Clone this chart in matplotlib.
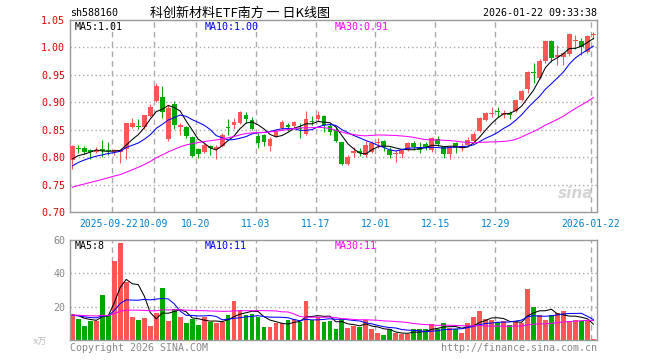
import numpy as np
import pandas as pd
import matplotlib
matplotlib.use("Agg")
import matplotlib.pyplot as plt

plt.rcParams['font.family'] = ['DejaVu Sans Mono', 'Noto Sans CJK SC']

# daily candles, 2025-09-11 .. 2026-01-22 (88 trading days)
opens = [0.795, 0.817, 0.817, 0.813, 0.810, 0.814, 0.813, 0.810, 0.810, 0.815,
         0.855, 0.857, 0.855, 0.875, 0.903, 0.909, 0.833, 0.897, 0.855, 0.855,
         0.837, 0.815, 0.810, 0.821, 0.814, 0.820, 0.855, 0.858, 0.862, 0.877,
         0.868, 0.838, 0.841, 0.821, 0.838, 0.854, 0.858, 0.857, 0.853, 0.843,
         0.866, 0.869, 0.875, 0.857, 0.849, 0.827, 0.787, 0.808, 0.812, 0.804,
         0.810, 0.826, 0.830, 0.813, 0.806, 0.805, 0.813, 0.826, 0.819, 0.824,
         0.813, 0.833, 0.819, 0.806, 0.825, 0.816, 0.822, 0.830, 0.848, 0.868,
         0.878, 0.884, 0.877, 0.880, 0.885, 0.905, 0.925, 0.955, 0.944, 0.975,
         1.012, 0.983, 0.983, 0.988, 1.011, 1.012, 0.992, 1.022]
highs = [0.822, 0.822, 0.820, 0.815, 0.818, 0.832, 0.827, 0.815, 0.815, 0.862,
         0.872, 0.870, 0.877, 0.897, 0.936, 0.930, 0.895, 0.903, 0.863, 0.857,
         0.839, 0.817, 0.825, 0.823, 0.822, 0.844, 0.870, 0.872, 0.885, 0.883,
         0.873, 0.844, 0.843, 0.836, 0.852, 0.868, 0.862, 0.866, 0.863, 0.884,
         0.875, 0.884, 0.877, 0.860, 0.855, 0.828, 0.803, 0.819, 0.816, 0.830,
         0.830, 0.834, 0.832, 0.819, 0.813, 0.815, 0.828, 0.830, 0.828, 0.828,
         0.836, 0.838, 0.820, 0.820, 0.828, 0.826, 0.836, 0.846, 0.874, 0.882,
         0.891, 0.891, 0.886, 0.884, 0.906, 0.923, 0.957, 0.971, 0.978, 1.014,
         1.013, 1.004, 0.992, 1.026, 1.023, 1.017, 1.022, 1.029]
lows = [0.778, 0.808, 0.806, 0.797, 0.807, 0.800, 0.803, 0.803, 0.789, 0.797,
        0.853, 0.851, 0.852, 0.874, 0.900, 0.872, 0.830, 0.852, 0.841, 0.835,
        0.800, 0.799, 0.807, 0.804, 0.796, 0.818, 0.841, 0.852, 0.860, 0.863,
        0.849, 0.817, 0.820, 0.812, 0.836, 0.850, 0.848, 0.852, 0.835, 0.840,
        0.858, 0.866, 0.846, 0.840, 0.828, 0.785, 0.785, 0.801, 0.802, 0.801,
        0.808, 0.816, 0.812, 0.798, 0.792, 0.798, 0.812, 0.813, 0.808, 0.813,
        0.809, 0.820, 0.798, 0.796, 0.808, 0.812, 0.820, 0.829, 0.846, 0.866,
        0.874, 0.874, 0.871, 0.869, 0.882, 0.903, 0.917, 0.936, 0.942, 0.972,
        0.974, 0.968, 0.968, 0.985, 0.998, 0.986, 0.990, 1.016]
closes = [0.821, 0.814, 0.809, 0.809, 0.813, 0.811, 0.811, 0.813, 0.813, 0.862,
          0.862, 0.855, 0.876, 0.892, 0.930, 0.883, 0.890, 0.858, 0.859, 0.839,
          0.802, 0.806, 0.822, 0.816, 0.819, 0.841, 0.853, 0.864, 0.883, 0.869,
          0.852, 0.826, 0.827, 0.833, 0.847, 0.864, 0.855, 0.864, 0.851, 0.870,
          0.864, 0.876, 0.858, 0.846, 0.830, 0.787, 0.801, 0.811, 0.807, 0.823,
          0.825, 0.828, 0.818, 0.804, 0.808, 0.813, 0.825, 0.818, 0.813, 0.818,
          0.834, 0.824, 0.806, 0.818, 0.816, 0.821, 0.831, 0.843, 0.872, 0.880,
          0.880, 0.882, 0.880, 0.877, 0.904, 0.921, 0.955, 0.953, 0.976, 1.012,
          0.980, 0.986, 0.989, 1.024, 1.013, 1.000, 1.020, 1.024]
# volume, 万手
volumes = [15.4, 12.4, 8.4, 11.4, 11.4, 26.8, 14.8, 47.4, 58.0, 34.8,
           13.8, 12.0, 13.4, 8.4, 16.0, 31.0, 11.4, 18.4, 13.8, 10.0,
           12.8, 9.0, 14.0, 10.8, 10.4, 10.8, 14.8, 23.4, 18.0, 14.8,
           15.4, 14.0, 7.8, 7.8, 10.0, 10.4, 11.8, 12.8, 10.8, 23.4,
           12.0, 14.0, 10.8, 11.4, 6.4, 12.8, 7.0, 8.4, 8.0, 12.0,
           6.4, 4.4, 2.8, 6.4, 4.0, 3.4, 3.4, 6.4, 6.4, 6.4,
           9.4, 6.4, 10.4, 7.4, 6.8, 4.4, 10.4, 13.6, 17.4, 12.8,
           12.0, 11.0, 11.2, 8.8, 11.6, 10.4, 30.4, 20.0, 15.2, 11.8,
           14.8, 16.4, 17.2, 11.4, 11.8, 11.4, 12.0, 0.8]

# earlier sessions, only used to seed the moving averages
prior_closes = [0.720, 0.728, 0.724, 0.731, 0.726, 0.719, 0.722, 0.730, 0.735, 0.727,
                0.721, 0.725, 0.729, 0.724, 0.729, 0.722, 0.718, 0.726, 0.731, 0.728,
                0.752, 0.764, 0.771, 0.780, 0.789, 0.785, 0.796, 0.790, 0.793]
prior_volumes = [14, 17, 13, 16, 15, 18, 12, 15, 16, 14, 13, 17, 15, 16, 14,
                 15, 13, 16, 15, 17, 14, 15, 16, 13, 15, 14, 16, 15, 14]

tick_idx = [7, 14, 21, 31, 41, 51, 61, 71, 87]
tick_labels = ['2025-09-22', '10-09', '10-20', '11-03', '11-17', '12-01',
               '12-15', '12-29', '2026-01-22']
price_ticks = [0.70, 0.75, 0.80, 0.85, 0.90, 0.95, 1.00, 1.05]
vol_ticks = [20, 40, 60]

RED = '#ff5555'
GREEN = '#00a800'
GRID = '#aaaaaa'
FRAME = '#999999'
LW = 0.75

n = len(closes)
x = np.arange(n)
o = np.array(opens); c = np.array(closes)
h = np.array(highs); l = np.array(lows)
up = c >= o
cols = np.where(up, RED, GREEN)

allc = pd.Series(prior_closes + closes)
allv = pd.Series(prior_volumes + volumes)
ma = {k: allc.rolling(k).mean().values[-n:] for k in (5, 10, 30)}
vma = {k: allv.rolling(k).mean().values[-n:] for k in (5, 10, 30)}

W, H = 660, 360
fig = plt.figure(figsize=(6.6, 3.6), dpi=100)
ax1 = fig.add_axes([70 / W, 1 - 212 / H, 527 / W, 192 / H])
ax2 = fig.add_axes([70 / W, 1 - 340 / H, 527 / W, 100 / H])

for ax in (ax1, ax2):
    ax.set_xlim(-0.4, n - 0.4)
    for s in ax.spines.values():
        s.set_color(FRAME)
        s.set_linewidth(1.0)
    for t in tick_idx:
        ax.axvline(t - 0.4, color=GRID, lw=1, ls=(0, (4, 3)), zorder=0)
    ax.tick_params(length=0)
    ax.set_xticks([])

# candles
body_lo = np.minimum(o, c)
body_h = np.maximum(np.abs(c - o), 0.0012)
ax1.vlines(x, l, h, colors=cols, lw=LW, zorder=2)
ax1.bar(x, body_h, bottom=body_lo, width=0.8, color=cols, linewidth=0, zorder=3)
ax1.plot(x, ma[5], color='black', lw=LW, zorder=4)
ax1.plot(x, ma[10], color='#0000ff', lw=LW, zorder=4)
ax1.plot(x, ma[30], color='#ff00ff', lw=LW, zorder=4)
ax1.set_ylim(0.70, 1.05)
ax1.set_yticks(price_ticks)
ax1.set_yticklabels([f'{p:.2f}' for p in price_ticks], color='#e00000', fontsize=7.2)
for p in price_ticks[1:-1]:
    ax1.axhline(p, color=GRID, lw=1, ls=(0, (1, 2)), zorder=0)

# volume
ax2.bar(x, volumes, width=0.8, color=cols, linewidth=0, zorder=2)
ax2.plot(x, vma[5], color='black', lw=LW, zorder=4)
ax2.plot(x, vma[10], color='#0000ff', lw=LW, zorder=4)
ax2.plot(x, vma[30], color='#ff00ff', lw=LW, zorder=4)
ax2.set_ylim(0, 60)
ax2.set_yticks(vol_ticks)
ax2.set_yticklabels([str(v) for v in vol_ticks], color='#888888', fontsize=7.2)
for v in vol_ticks[:-1]:
    ax2.axhline(v, color=GRID, lw=1, ls=(0, (1, 2)), zorder=0)


def ftxt(px, py, s, **kw):
    fig.text(px / W, 1 - py / H, s, **kw)


# date labels under the price panel
for t, lab in zip(tick_idx, tick_labels):
    xp = 70 + t * 527 / n
    if t == tick_idx[0]:
        xp -= 3
    ftxt(xp, 224, lab, color='#0080d0', fontsize=7.0, ha='center', va='center')

ftxt(70, 13, 'sh588160', fontsize=7.2, va='center')
ftxt(150, 13, '科创新材料ETF南方 一 日K线图', fontsize=9.4, va='center',
     family=['Noto Sans CJK SC', 'DejaVu Sans'])
ftxt(597, 13, '2026-01-22 09:33:38', fontsize=7.2, va='center', ha='right')

ftxt(75, 27, 'MA5:1.01', fontsize=7.2, va='center', color='black')
ftxt(205, 27, 'MA10:1.00', fontsize=7.2, va='center', color='#0000ff')
ftxt(335, 27, 'MA30:0.91', fontsize=7.2, va='center', color='#ff00ff')

ftxt(75, 246, 'MA5:8', fontsize=7.2, va='center', color='black')
ftxt(205, 246, 'MA10:11', fontsize=7.2, va='center', color='#0000ff')
ftxt(335, 246, 'MA30:11', fontsize=7.2, va='center', color='#ff00ff')

ftxt(40, 342, 'x万', fontsize=6.5, va='center', ha='center', color='#bbbbbb',
     family=['DejaVu Sans', 'Noto Sans CJK SC'])
ftxt(70, 348, 'Copyright 2026 SINA.COM', fontsize=7.2, va='center', color='#888888')
ftxt(597, 348, 'http://finance.sina.com.cn', fontsize=7.2, va='center', ha='right',
     color='#888888')
ftxt(593, 193, 'sina', fontsize=11, va='center', ha='right', color='#d4d4d4',
     style='italic', weight='bold', family=['DejaVu Sans'])

fig.savefig('out.png', dpi=100)
